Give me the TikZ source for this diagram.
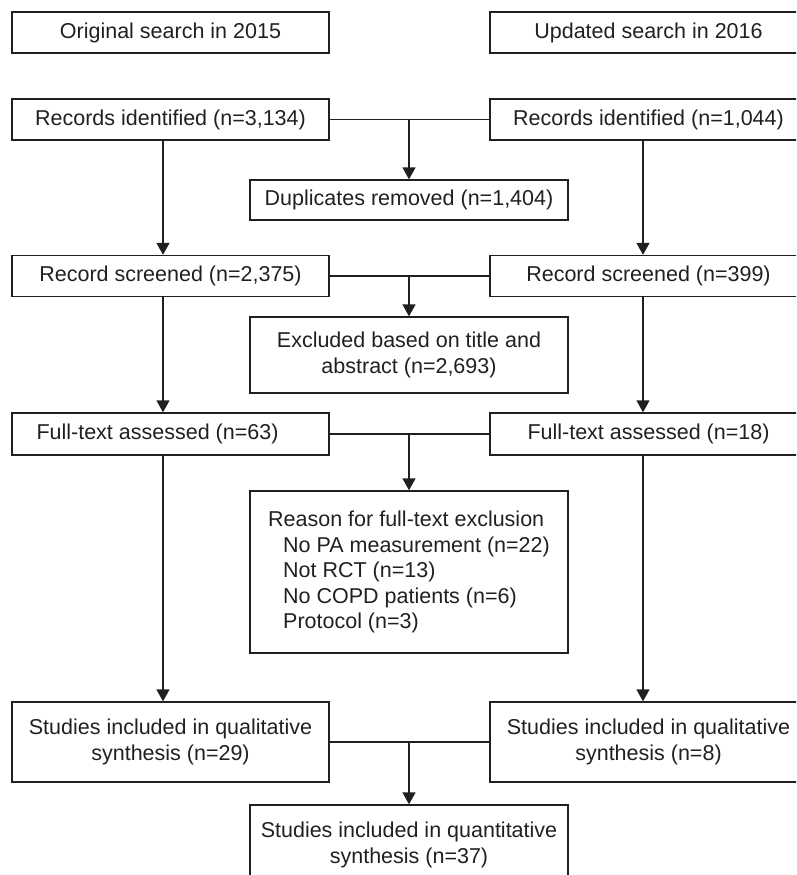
\documentclass[tikz,border=0pt]{standalone}
\usepackage{fontspec}
\setmainfont{Liberation Sans}
\usetikzlibrary{arrows.meta}
\definecolor{ink}{RGB}{35,31,32}
\begin{document}
\begin{tikzpicture}[x=1pt,y=-1pt,
  box/.style={draw=ink,line width=1.3pt,text=ink,inner sep=0pt,minimum width=317pt,align=center,
    font=\fontsize{21.5}{26.5}\selectfont},
  one/.style={box,minimum height=41pt},
  conn/.style={draw=ink,line width=1.3pt},
  arr/.style={conn,-{Triangle[width=13pt,length=12pt]}}]
\useasboundingbox (0,0) rectangle (796,875);
\clip (0,0) rectangle (796,875);
% top labels
\node[one] (orig) at (170.5,32.5) {Original search in 2015};
\node[one] (upd) at (648.5,32.5) {Updated search in 2016};
% records
\node[one] (rec1) at (170.5,119.5) {Records identified (n=3,134)};
\node[one] (rec2) at (648.5,119.5) {Records identified (n=1,044)};
\node[box,minimum width=318pt,minimum height=40pt] (dup) at (409,200) {Duplicates removed (n=1,404)};
% screened
\node[one] (scr1) at (170.5,276) {Record screened (n=2,375)};
\node[one] (scr2) at (648.5,276) {Record screened (n=399)};
\node[box,minimum width=318pt,minimum height=76pt] (excl) at (409,355) {Excluded based on title and\\abstract (n=2,693)};
% full text
\node[box,minimum height=42pt] (ft1) at (170.5,434) {Full-text assessed (n=63)\hspace*{26pt}};
\node[box,minimum height=42pt] (ft2) at (648.5,434) {Full-text assessed (n=18)};
\node[box,minimum width=318pt,minimum height=162pt,align=left,font=\fontsize{21.5}{25.5}\selectfont] (reason) at (409,572)
  {Reason for full-text exclusion\\
   \hspace*{15pt}No PA measurement (n=22)\\
   \hspace*{15pt}Not RCT (n=13)\\
   \hspace*{15pt}No COPD patients (n=6)\\
   \hspace*{15pt}Protocol (n=3)};
% studies
\node[box,minimum height=80pt] (qual1) at (170.5,742) {Studies included in qualitative\\synthesis (n=29)};
\node[box,minimum height=80pt] (qual2) at (648.5,742) {Studies included in qualitative\\synthesis (n=8)};
\node[box,minimum width=318pt,minimum height=80pt] (quant) at (409,845) {Studies included in quantitative\\synthesis (n=37)};
% columns
\coordinate (colL) at (163,0);
\coordinate (colR) at (643,0);
% vertical flows
\draw[arr] (rec1.south -| colL) -- (scr1.north -| colL);
\draw[arr] (rec2.south -| colR) -- (scr2.north -| colR);
\draw[arr] (scr1.south -| colL) -- (ft1.north -| colL);
\draw[arr] (scr2.south -| colR) -- (ft2.north -| colR);
\draw[arr] (ft1.south -| colL) -- (qual1.north -| colL);
\draw[arr] (ft2.south -| colR) -- (qual2.north -| colR);
% horizontal joins with drop arrows
\draw[conn] (rec1.east) -- (rec2.west);
\draw[arr] (rec1.east -| dup.north) -- (dup.north);
\draw[conn] (scr1.east) -- (scr2.west);
\draw[arr] (scr1.east -| excl.north) -- (excl.north);
\draw[conn] (ft1.east) -- (ft2.west);
\draw[arr] (ft1.east -| reason.north) -- (reason.north);
\draw[conn] (qual1.east) -- (qual2.west);
\draw[arr] (qual1.east -| quant.north) -- (quant.north);
\end{tikzpicture}
\end{document}
